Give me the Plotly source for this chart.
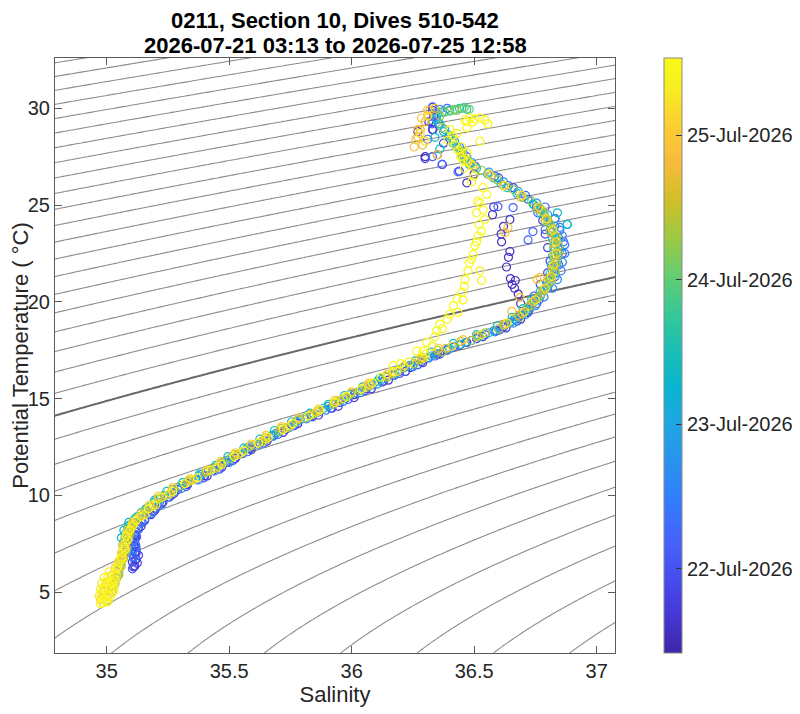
import numpy as np
import plotly.graph_objects as go

# ---------------- data ----------------
TITLE_1 = "0211, Section 10, Dives 510-542"
TITLE_2 = "2026-07-21 03:13 to 2026-07-25 12:58"
X_LABEL = "Salinity"
Y_LABEL = "Potential Temperature ( °C)"

# colour axis: day of July 2026
day_min = 21.416
day_max = 25.536
cbar_tick_days = [22, 23, 24, 25]
cbar_tick_text = ["22-Jul-2026", "23-Jul-2026", "24-Jul-2026", "25-Jul-2026"]

x_ticks = [35, 35.5, 36, 36.5, 37]
y_ticks = [5, 10, 15, 20, 25, 30]
sal_range = [34.789, 37.075]
temp_range = [1.85, 32.6]

sigma_levels_step = 0.25
sigma_highlight = 26.0

# profiles (groups of dives) -- day of July for each
profile_days = [21.55, 21.8, 22.3, 22.8, 23.2, 23.7, 24.2, 24.7, 25.2, 25.42, 25.5,
                22.05, 23.45, 24.45, 22.55, 25.05, 21.65]

p1_temp = [6.35, 6.7, 7.05, 7.4, 7.9, 8.4, 9.0, 9.6, 10.3, 11.0, 11.7, 12.4, 13.1, 13.8, 14.5, 15.2, 15.9, 16.6, 17.3, 17.9, 18.5, 19.2, 19.9, 20.4, 20.7, 21.1, 21.2, 21.8, 22.6, 23.1, 23.9, 24.25, 24.5, 26.15, 26.6, 27.5, 28.8, 28.9, 29.6]
p1_sal = [35.115, 35.12, 35.115, 35.11, 35.12, 35.14, 35.18, 35.225, 35.29, 35.40, 35.49, 35.585, 35.68, 35.775, 35.915, 36.01, 36.13, 36.24, 36.35, 36.47, 36.59, 36.68, 36.69, 36.68, 36.665, 36.668, 36.648, 36.632, 36.646, 36.612, 36.62, 36.646, 36.575, 36.47, 36.50, 36.30, 36.27, 36.33, 36.335]

p2_temp = [6.5, 6.9, 7.3, 7.7, 8.1, 8.6, 9.3, 9.9, 10.6, 11.3, 12.0, 12.7, 13.4, 14.1, 14.8, 15.5, 16.2, 16.9, 17.5, 18.1, 18.7, 19.3, 19.8, 20.3, 20.9, 21.5, 22.1, 22.8, 23.5, 24.2, 24.9, 25.3, 25.9, 26.4, 26.75, 27.1, 27.6, 28.2, 28.9, 29.3, 30.05]
p2_sal = [35.125, 35.13, 35.12, 35.115, 35.12, 35.145, 35.20, 35.255, 35.33, 35.435, 35.53, 35.625, 35.73, 35.835, 35.95, 36.06, 36.17, 36.285, 36.39, 36.51, 36.62, 36.69, 36.735, 36.745, 36.77, 36.80, 36.81, 36.80, 36.79, 36.78, 36.755, 36.72, 36.66, 36.60, 36.44, 36.37, 36.35, 36.375, 36.33, 36.33, 36.33]

p3_temp = [7.0, 7.5, 8.0, 8.5, 9.0, 9.6, 10.2, 10.8, 11.5, 12.2, 12.9, 13.6, 14.3, 15.0, 15.7, 16.4, 17.1, 17.7, 18.3, 18.9, 19.5, 20.1, 20.7, 21.3, 21.9, 22.5, 23.1, 23.7, 24.3, 24.9, 25.5, 26.0, 26.5, 27.0, 27.5, 28.0, 28.6, 29.2, 29.7, 30.0]
p3_sal = [35.10, 35.105, 35.11, 35.13, 35.165, 35.215, 35.28, 35.365, 35.465, 35.555, 35.655, 35.76, 35.865, 35.975, 36.085, 36.195, 36.31, 36.42, 36.545, 36.645, 36.72, 36.765, 36.80, 36.83, 36.845, 36.86, 36.865, 36.85, 36.83, 36.79, 36.71, 36.64, 36.585, 36.505, 36.47, 36.44, 36.40, 36.355, 36.35, 36.39]

p4_temp = [7.2, 7.7, 8.2, 8.7, 9.2, 9.8, 10.4, 11.1, 11.8, 12.5, 13.2, 13.9, 14.6, 15.3, 16.0, 16.7, 17.3, 17.9, 18.5, 19.1, 19.7, 20.3, 20.9, 21.5, 22.1, 22.7, 23.3, 23.9, 24.5, 25.1, 25.7, 26.2, 26.7, 27.2, 27.7, 28.3, 28.9, 29.5, 29.95]
p4_sal = [35.085, 35.08, 35.09, 35.115, 35.16, 35.22, 35.29, 35.39, 35.49, 35.585, 35.69, 35.79, 35.905, 36.015, 36.125, 36.235, 36.345, 36.465, 36.58, 36.665, 36.725, 36.77, 36.805, 36.83, 36.84, 36.85, 36.845, 36.83, 36.80, 36.755, 36.68, 36.62, 36.56, 36.49, 36.455, 36.42, 36.38, 36.345, 36.36]

p5_temp = [7.4, 7.8, 8.2, 8.6, 9.1, 9.7, 10.3, 11.0, 11.7, 12.4, 13.1, 13.8, 14.5, 15.2, 15.9, 16.6, 17.2, 17.8, 18.4, 19.0, 19.6, 20.2, 20.8, 21.4, 22.0, 22.6, 23.2, 23.8, 24.0, 24.4, 25.0, 25.6, 26.1, 26.6, 27.1, 27.6, 28.2, 28.8, 29.4, 29.9]
p5_sal = [35.065, 35.06, 35.07, 35.09, 35.14, 35.20, 35.27, 35.375, 35.475, 35.57, 35.675, 35.775, 35.885, 35.995, 36.105, 36.215, 36.325, 36.445, 36.56, 36.655, 36.715, 36.76, 36.80, 36.825, 36.835, 36.84, 36.835, 36.82, 36.88, 36.79, 36.745, 36.675, 36.61, 36.555, 36.48, 36.45, 36.415, 36.375, 36.345, 36.40]

p6_temp = [5.9, 6.4, 6.9, 7.3, 7.8, 8.3, 8.8, 9.4, 10.0, 10.7, 11.4, 12.1, 12.8, 13.5, 14.2, 14.9, 15.6, 16.3, 17.0, 17.6, 18.2, 18.8, 19.4, 20.0, 20.6, 21.2, 21.8, 22.4, 23.0, 23.6, 24.2, 24.8, 25.4, 25.9, 26.4, 26.9, 27.4, 28.0, 28.6, 29.2, 29.8, 30.0, 29.95]
p6_sal = [35.045, 35.055, 35.065, 35.07, 35.075, 35.085, 35.115, 35.175, 35.235, 35.33, 35.44, 35.535, 35.64, 35.74, 35.845, 35.955, 36.065, 36.175, 36.285, 36.40, 36.52, 36.625, 36.70, 36.745, 36.785, 36.81, 36.825, 36.83, 36.83, 36.82, 36.80, 36.77, 36.70, 36.635, 36.58, 36.51, 36.46, 36.43, 36.395, 36.36, 36.37, 36.44, 36.47]

p7_temp = [5.3, 5.7, 6.1, 6.6, 7.1, 7.6, 8.1, 8.6, 9.2, 9.8, 10.5, 11.2, 11.9, 12.6, 13.3, 14.0, 14.7, 15.4, 16.1, 16.8, 17.4, 18.0, 18.6, 19.2, 19.8, 20.4, 21.0, 21.6, 22.2, 22.8, 23.4, 24.0, 24.6, 25.2, 25.8, 26.3, 26.8, 27.3, 27.8, 28.4, 29.0, 29.6, 29.9]
p7_sal = [35.03, 35.04, 35.05, 35.06, 35.07, 35.08, 35.09, 35.11, 35.155, 35.21, 35.30, 35.41, 35.505, 35.605, 35.705, 35.81, 35.925, 36.035, 36.145, 36.255, 36.37, 36.49, 36.60, 36.685, 36.735, 36.775, 36.805, 36.82, 36.83, 36.83, 36.83, 36.81, 36.785, 36.735, 36.66, 36.595, 36.53, 36.475, 36.445, 36.41, 36.37, 36.36, 36.42]

p8_temp = [4.9, 5.3, 5.8, 6.3, 6.8, 7.3, 7.8, 8.3, 8.8, 9.4, 10.0, 10.7, 11.4, 12.1, 12.8, 13.5, 14.2, 14.9, 15.6, 16.3, 17.0, 17.6, 18.2, 18.8, 19.4, 20.0, 20.6, 21.2, 21.8, 22.4, 23.0, 23.6, 24.2, 24.8, 25.4, 26.0, 26.5, 27.0, 27.5, 28.1, 28.5, 28.9, 29.3, 29.6, 29.9, 30.0]
p8_sal = [35.01, 35.02, 35.035, 35.05, 35.065, 35.08, 35.09, 35.10, 35.125, 35.18, 35.245, 35.335, 35.445, 35.535, 35.635, 35.735, 35.84, 35.945, 36.055, 36.165, 36.275, 36.385, 36.51, 36.62, 36.695, 36.74, 36.78, 36.805, 36.82, 36.825, 36.825, 36.81, 36.79, 36.76, 36.69, 36.62, 36.57, 36.495, 36.455, 36.29, 36.27, 36.28, 36.30, 36.31, 36.32, 36.34]

p9_temp = [4.45, 4.7, 5.0, 5.3, 5.6, 6.0, 6.5, 7.0, 7.5, 8.0, 8.5, 9.0, 9.5, 10.1, 10.8, 11.5, 12.2, 12.9, 13.6, 14.3, 15.0, 15.7, 16.4, 17.1, 17.7, 18.3, 18.9, 19.5, 20.1, 20.7, 21.3, 21.9, 22.5, 23.1, 23.7, 24.3, 24.9, 25.5, 26.0, 26.6, 27.1, 27.7, 28.3, 28.7, 29.6]
p9_sal = [34.985, 34.98, 34.99, 35.0, 35.01, 35.03, 35.05, 35.065, 35.075, 35.085, 35.11, 35.155, 35.20, 35.26, 35.355, 35.455, 35.55, 35.65, 35.75, 35.855, 35.965, 36.075, 36.185, 36.295, 36.41, 36.53, 36.635, 36.705, 36.75, 36.79, 36.815, 36.825, 36.835, 36.835, 36.82, 36.795, 36.765, 36.695, 36.625, 36.56, 36.49, 36.45, 36.30, 36.28, 36.31]

p10_temp = [4.5, 4.8, 5.2, 5.7, 6.3, 6.8, 7.3, 7.9, 8.4, 8.9, 9.5, 10.2, 10.9, 11.6, 12.3, 13.0, 13.7, 14.4, 15.1, 15.8, 16.4, 16.9, 17.3, 17.7, 18.2, 18.6, 19.1, 19.45, 20.1, 20.8, 21.1, 21.6, 22.2, 23.1, 24.0, 24.6, 25.2, 26.2, 26.9, 27.5, 28.0, 28.7, 29.3]
p10_sal = [35.0, 35.005, 35.015, 35.025, 35.045, 35.06, 35.07, 35.08, 35.105, 35.14, 35.19, 35.27, 35.37, 35.47, 35.56, 35.66, 35.76, 35.87, 35.98, 36.085, 36.17, 36.235, 36.30, 36.33, 36.34, 36.37, 36.39, 36.434, 36.454, 36.46, 36.53, 36.524, 36.49, 36.51, 36.52, 36.51, 36.515, 36.49, 36.46, 36.445, 36.45, 36.43, 36.47]

p11_temp = [4.4, 4.6, 4.9, 5.2, 5.5, 5.8, 5.5, 5.1, 6.2, 6.7, 7.2, 7.7, 8.2, 8.7, 9.3, 9.9, 10.6, 11.3, 12.0, 12.7, 13.4, 14.1, 14.8, 15.5, 16.1, 16.7, 16.8, 17.45, 17.45, 17.9, 18.5, 18.85, 19.35, 19.8, 20.15, 20.5, 21.15, 21.6, 22.0, 22.45, 22.9, 23.4, 23.65, 24.25, 24.75, 25.1, 25.55, 25.9, 26.5, 27.2, 27.35, 27.7, 27.85, 28.1, 28.35, 28.6, 28.9, 29.0, 29.3, 29.4, 29.5, 29.45, 29.5, 29.4, 29.2, 28.3]
p11_sal = [34.975, 34.99, 34.975, 34.985, 34.995, 35.005, 35.02, 35.03, 35.04, 35.06, 35.075, 35.085, 35.095, 35.12, 35.17, 35.225, 35.32, 35.425, 35.52, 35.62, 35.72, 35.825, 35.93, 36.04, 36.12, 36.17, 36.20, 36.265, 36.292, 36.306, 36.347, 36.36, 36.40, 36.415, 36.43, 36.45, 36.463, 36.475, 36.48, 36.496, 36.503, 36.517, 36.53, 36.544, 36.537, 36.524, 36.552, 36.536, 36.50, 36.475, 36.454, 36.47, 36.434, 36.422, 36.393, 36.413, 36.401, 36.47, 36.495, 36.462, 36.483, 36.503, 36.524, 36.544, 36.556, 36.524]

p12_temp = [6.2, 6.6, 7.0, 7.45, 7.85, 8.25, 8.7, 9.15, 9.55, 10.0, 10.45, 10.9, 11.35, 11.8, 12.25, 12.7, 13.15, 13.6, 14.05, 14.5, 14.95, 15.4, 15.85, 16.3, 16.75, 17.2, 17.65, 18.1, 18.55, 19.0, 19.45, 19.9]
p12_sal = [35.105, 35.115, 35.12, 35.118, 35.122, 35.13, 35.155, 35.19, 35.225, 35.265, 35.325, 35.395, 35.46, 35.515, 35.575, 35.64, 35.70, 35.765, 35.84, 35.92, 35.985, 36.055, 36.125, 36.195, 36.27, 36.34, 36.415, 36.51, 36.605, 36.675, 36.72, 36.755]

p13_temp = [7.6, 8.0, 8.45, 8.9, 9.3, 9.75, 10.2, 10.65, 11.1, 11.55, 12.0, 12.45, 12.9, 13.35, 13.8, 14.25, 14.7, 15.15, 15.6, 16.05, 16.5, 16.95, 17.4, 17.85, 18.3, 18.75, 19.2, 19.65, 20.1, 20.55, 21.0, 21.45, 21.9, 22.35, 22.8, 23.25, 23.7, 24.15, 24.6, 25.05]
p13_sal = [35.07, 35.075, 35.09, 35.125, 35.16, 35.195, 35.245, 35.31, 35.38, 35.445, 35.495, 35.56, 35.625, 35.685, 35.755, 35.83, 35.905, 35.97, 36.045, 36.115, 36.19, 36.26, 36.325, 36.415, 36.51, 36.595, 36.655, 36.70, 36.735, 36.77, 36.795, 36.81, 36.815, 36.82, 36.825, 36.82, 36.81, 36.79, 36.77, 36.74]

p14_temp = [5.0, 5.45, 5.9, 6.35, 6.75, 7.2, 7.65, 8.05, 8.5, 8.95, 9.4, 9.85, 10.3, 10.75, 11.2, 11.65, 12.1, 12.55, 13.0, 13.45, 13.9, 14.35, 14.8, 15.25, 15.7, 16.15, 16.6, 17.05, 17.5, 17.95, 18.4, 18.85, 19.3, 19.75, 20.2, 20.65, 21.1, 21.55, 22.0, 22.45, 22.9, 23.35, 23.8, 24.25, 24.7]
p14_sal = [35.02, 35.035, 35.05, 35.06, 35.07, 35.078, 35.085, 35.095, 35.11, 35.145, 35.18, 35.215, 35.27, 35.34, 35.405, 35.465, 35.52, 35.585, 35.65, 35.71, 35.78, 35.86, 35.93, 35.995, 36.07, 36.14, 36.21, 36.285, 36.35, 36.445, 36.545, 36.625, 36.68, 36.72, 36.76, 36.79, 36.815, 36.83, 36.835, 36.845, 36.845, 36.835, 36.82, 36.80, 36.775]

p15_temp = [6.8, 7.25, 7.7, 8.15, 8.6, 9.05, 9.45, 9.9, 10.35, 10.8, 11.25, 11.7, 12.15, 12.6, 13.05, 13.5, 13.95, 14.4, 14.85, 15.3, 15.75, 16.2, 16.65, 17.1, 17.55, 18.0, 18.45, 18.9, 19.35, 19.8, 20.25, 20.7, 21.15, 21.6, 22.05, 22.5, 22.95, 23.4, 23.85, 24.3]
p15_sal = [35.11, 35.115, 35.11, 35.12, 35.14, 35.18, 35.21, 35.25, 35.305, 35.375, 35.44, 35.50, 35.555, 35.62, 35.68, 35.745, 35.815, 35.895, 35.965, 36.035, 36.105, 36.175, 36.25, 36.315, 36.39, 36.49, 36.585, 36.66, 36.71, 36.75, 36.785, 36.82, 36.84, 36.855, 36.86, 36.87, 36.87, 36.86, 36.85, 36.83]

p16_temp = [4.6, 5.05, 5.45, 5.85, 6.25, 6.6, 7.0, 7.4, 7.8, 8.2, 8.6, 9.05, 9.5, 9.95, 10.4, 10.85, 11.3, 11.75, 12.2, 12.65, 13.1, 13.55, 14.0, 14.45, 14.9, 15.35, 15.8, 16.25, 16.7, 17.15, 17.6, 18.05]
p16_sal = [34.975, 34.985, 35.0, 35.02, 35.035, 35.05, 35.06, 35.065, 35.075, 35.085, 35.105, 35.14, 35.175, 35.21, 35.27, 35.34, 35.41, 35.465, 35.525, 35.59, 35.65, 35.715, 35.785, 35.865, 35.93, 36.0, 36.07, 36.145, 36.215, 36.285, 36.355, 36.455]

p17_temp = [6.3, 6.55, 6.8, 7.1, 7.35, 7.6, 7.95, 8.35, 8.75, 9.2, 9.65, 10.1, 10.55, 11.0, 11.45, 11.9, 12.35, 12.8, 13.25, 13.7, 14.15, 14.6, 15.05, 15.5, 15.95, 16.4, 16.85, 17.3, 17.75, 18.2, 18.65, 19.1, 19.6]
p17_sal = [35.11, 35.105, 35.11, 35.12, 35.115, 35.11, 35.115, 35.13, 35.155, 35.195, 35.23, 35.275, 35.33, 35.41, 35.47, 35.525, 35.59, 35.655, 35.72, 35.78, 35.865, 35.945, 36.01, 36.08, 36.15, 36.22, 36.29, 36.36, 36.44, 36.535, 36.63, 36.69, 36.725]

# scattered points outside the main band
extra_days = [21.6, 22.2, 23.4, 24.0, 24.9, 25.3]
e1_temp = [28.9, 29.3, 27.4, 24.9, 23.5, 22.3, 20.9, 29.9]
e1_sal = [36.332, 36.315, 36.30, 36.58, 36.61, 36.64, 36.655, 36.33]
e2_temp = [24.87, 23.63, 23.73, 24.92, 24.6, 23.2, 27.1, 26.72, 27.5, 28.4, 29.2, 30.07]
e2_sal = [36.659, 36.74, 36.79, 36.597, 36.76, 36.72, 36.369, 36.434, 36.33, 36.31, 36.328, 36.33]
e3_temp = [24.0, 24.6, 27.9, 28.5]
e3_sal = [36.88, 36.84, 36.36, 36.34]
e4_temp = [29.85, 29.95, 30.0, 29.9, 30.05, 29.95, 29.8]
e4_sal = [36.40, 36.42, 36.45, 36.43, 36.46, 36.48, 36.38]
e5_temp = [23.58, 23.84, 21.16, 21.26, 20.23, 19.51, 28.0, 28.4, 28.9, 29.5, 29.9, 27.6]
e5_sal = [36.626, 36.638, 36.756, 36.769, 36.687, 36.654, 36.255, 36.262, 36.27, 36.285, 36.31, 36.35]
e6_temp = [4.5, 4.75, 5.0, 5.3, 5.6, 5.85, 4.8, 5.15, 5.45, 5.75, 6.05, 4.65]
e6_sal = [35.005, 35.015, 35.025, 35.03, 35.035, 35.04, 34.97, 34.975, 34.98, 34.99, 35.01, 34.99]

# ---------------- styling ----------------
FONT = "Liberation Sans, Arial, Helvetica, sans-serif"
TXT = "#262626"
PARULA = [
    (0, "rgb(62,38,168)"), (4, "rgb(69,55,213)"), (8, "rgb(72,77,240)"),
    (12, "rgb(69,99,253)"), (16, "rgb(50,124,252)"), (20, "rgb(43,145,239)"),
    (24, "rgb(32,165,227)"), (28, "rgb(8,181,208)"), (32, "rgb(25,191,182)"),
    (36, "rgb(55,200,151)"), (40, "rgb(100,205,111)"), (44, "rgb(157,201,67)"),
    (48, "rgb(209,191,39)"), (52, "rgb(248,186,61)"), (56, "rgb(252,207,48)"),
    (60, "rgb(246,239,32)"), (63, "rgb(249,251,21)"),
]
colorscale = [[i / 63.0, c] for i, c in PARULA]

# ---------------- assemble points (chronological draw order) ----------------
prof_t = [p1_temp, p2_temp, p3_temp, p4_temp, p5_temp, p6_temp, p7_temp,
          p8_temp, p9_temp, p10_temp, p11_temp, p12_temp, p13_temp, p14_temp,
          p15_temp, p16_temp, p17_temp]
prof_s = [p1_sal, p2_sal, p3_sal, p4_sal, p5_sal, p6_sal, p7_sal,
          p8_sal, p9_sal, p10_sal, p11_sal, p12_sal, p13_sal, p14_sal,
          p15_sal, p16_sal, p17_sal]
ext_t = [e1_temp, e2_temp, e3_temp, e4_temp, e5_temp, e6_temp]
ext_s = [e1_sal, e2_sal, e3_sal, e4_sal, e5_sal, e6_sal]

groups = []
for d, t, s in zip(profile_days, prof_t, prof_s):
    assert len(t) == len(s), (d, len(t), len(s))
    groups.append((d, t, s))
for d, t, s in zip(extra_days, ext_t, ext_s):
    assert len(t) == len(s), (d, len(t), len(s))
    groups.append((d, t, s))
groups.sort(key=lambda g: g[0])

all_s, all_t, all_d = [], [], []
for d, t, s in groups:
    all_s += s
    all_t += t
    all_d += [d] * len(t)

# ---------------- density (UNESCO EOS-80, p = 0) ----------------
def sigma0(S, T):
    rw = (999.842594 + 6.793952e-2 * T - 9.095290e-3 * T**2 + 1.001685e-4 * T**3
          - 1.120083e-6 * T**4 + 6.536332e-9 * T**5)
    A = (8.24493e-1 - 4.0899e-3 * T + 7.6438e-5 * T**2 - 8.2467e-7 * T**3
         + 5.3875e-9 * T**4)
    B = -5.72466e-3 + 1.0227e-4 * T - 1.6546e-6 * T**2
    C = 4.8314e-4
    return rw + A * S + B * S**1.5 + C * S**2 - 1000.0

gs = np.linspace(34.6, 37.3, 220)
gt = np.linspace(0.5, 34.0, 260)
SS, TT = np.meshgrid(gs, gt)
SIG = sigma0(SS, TT)

fig = go.Figure()
fig.add_trace(go.Contour(
    x=gs, y=gt, z=SIG,
    contours=dict(start=18.0, end=31.0, size=sigma_levels_step, coloring="lines"),
    colorscale=[[0, "#8c8c8c"], [1, "#8c8c8c"]],
    line=dict(width=1.1, smoothing=1.0),
    showscale=False, hoverinfo="skip",
))
fig.add_trace(go.Contour(
    x=gs, y=gt, z=SIG,
    contours=dict(start=sigma_highlight, end=sigma_highlight, size=1, coloring="lines"),
    colorscale=[[0, "#6a6a6a"], [1, "#6a6a6a"]],
    line=dict(width=2.0, smoothing=1.0),
    showscale=False, hoverinfo="skip",
))

# page is shown with an 8 px body margin, so the figure is 792 x 706
W, H = 792, 706
ML, MR, MT, MB = 47, 185, 50, 61
PW = W - ML - MR
PH = H - MT - MB

fig.add_trace(go.Scatter(
    x=all_s, y=all_t, mode="markers",
    marker=dict(
        symbol="circle-open", size=8, color=all_d, colorscale=colorscale,
        cmin=day_min, cmax=day_max, line=dict(width=1.2),
        colorbar=dict(
            x=(656 - ML) / PW, xanchor="left", xref="paper",
            y=0.5, yanchor="middle", len=1.0, lenmode="fraction",
            xpad=0, ypad=0,
            thickness=18, thicknessmode="pixels",
            outlinewidth=1, outlinecolor="#8a8a8a",
            tickvals=cbar_tick_days, ticktext=cbar_tick_text,
            ticks="inside", ticklen=6, tickcolor="#333333",
            tickfont=dict(family=FONT, size=20, color=TXT),
        ),
    ),
    hoverinfo="skip", showlegend=False,
))

axis_common = dict(
    showgrid=False, zeroline=False, showline=True, linecolor="#5a5a5a",
    linewidth=1, mirror="ticks", ticks="inside", ticklen=7,
    tickcolor="#5a5a5a", tickfont=dict(family=FONT, size=20, color=TXT),
    automargin=False,
)
fig.update_layout(
    width=W, height=H,
    margin=dict(l=ML, r=MR, t=MT, b=MB, autoexpand=False),
    paper_bgcolor="white", plot_bgcolor="white",
    xaxis=dict(range=sal_range, tickvals=x_ticks,
               ticktext=[f"{v:g}" for v in x_ticks],
               title=dict(text=X_LABEL, font=dict(family=FONT, size=22, color=TXT), standoff=4),
               **axis_common),
    yaxis=dict(range=temp_range, tickvals=y_ticks,
               title=dict(text=Y_LABEL, font=dict(family=FONT, size=22, color=TXT), standoff=4),
               **axis_common),
    annotations=[
        dict(text="<b>" + TITLE_1 + "</b>", xref="paper", yref="paper",
             x=0.5, y=1 + (MT - 12.5) / PH, xanchor="center", yanchor="middle",
             borderpad=0, showarrow=False,
             font=dict(family=FONT, size=22, color="black")),
        dict(text="<b>" + TITLE_2 + "</b>", xref="paper", yref="paper",
             x=0.5, y=1 + (MT - 37.5) / PH, xanchor="center", yanchor="middle",
             borderpad=0, showarrow=False,
             font=dict(family=FONT, size=22, color="black")),
    ],
)

fig.write_html("out.html")
